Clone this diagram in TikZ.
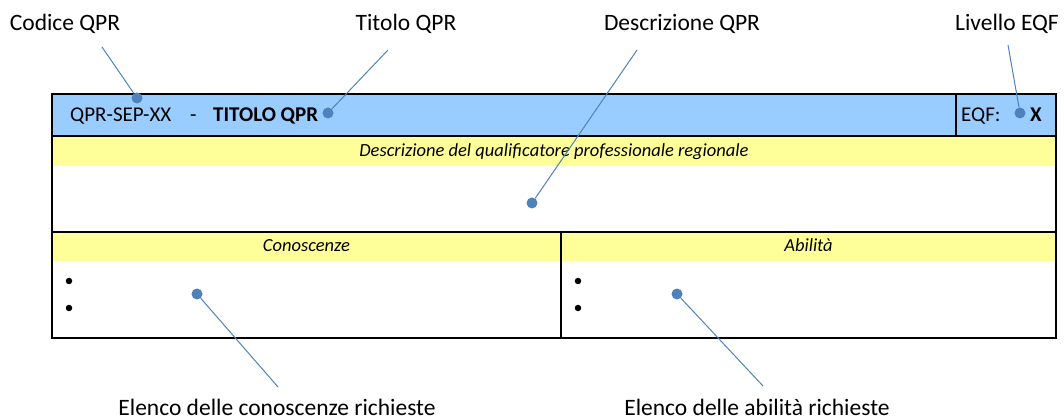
\documentclass[tikz,border=0pt]{standalone}
\usepackage{fontspec}
\setmainfont{Carlito}
\usepackage{xcolor}
\usepackage{tikz}
\usetikzlibrary{positioning,calc}
\definecolor{qprblue}{HTML}{99CCFF}
\definecolor{qpryellow}{HTML}{FFFF99}
\definecolor{callout}{HTML}{4F81BD}
\tikzset{
  callout dot/.style={circle,fill=callout,inner sep=0pt,minimum size=11pt},
  callout line/.style={callout,line width=1pt},
  callout text/.style={font=\fontsize{23.5}{27}\selectfont,anchor=base,inner sep=0pt},
  cell text/.style={font=\fontsize{21}{24}\selectfont,anchor=base west,inner sep=0pt},
  head text/.style={font=\fontsize{18.5}{21}\selectfont\itshape,anchor=base,inner sep=0pt},
  bullet/.style={circle,fill=black,inner sep=0pt,minimum size=6.5pt},
  grid line/.style={line width=1.2pt}
}

\begin{document}
\begin{tikzpicture}[x=1pt,y=-1pt]
\useasboundingbox (0,0) rectangle (1064,419);
% table background
\fill [qprblue] (52,94) rectangle (1056,136);
\fill [qpryellow] (52,136) rectangle (1056,166);
\fill [qpryellow] (52,232) rectangle (1056,261);
\draw [grid line] (52,94) rectangle (1056,338);
\draw [grid line] (52,136) -- (1056,136) (52,232) -- (1056,232);
\draw [grid line] (956,94) -- (956,136) (561,232) -- (561,338);
% cell texts
\node [cell text] (code) at (70,122) {QPR-SEP-XX};
\node [cell text] (dash) at (190,122) {-};
\node [cell text] (title) at (213,122) {\bfseries TITOLO QPR};
\node [cell text] (eqf) at (961,122) {EQF:};
\node [cell text] (level) at (1030,122) {\bfseries X};
\node [head text] (descr) at (554,157) {Descrizione del qualificatore professionale regionale};
\node [head text] (know) at (306.5,252) {Conoscenze};
\node [head text] (skill) at (808.5,252) {Abilità};
\foreach \y [count=\i] in {281,308}{
  \node [bullet] (kb\i) at (69,\y) {};
  \node [bullet] (sb\i) at (578,\y) {};
}
% callouts
\node [callout text] (lcode) at (65,31) {Codice QPR};
\node [callout text] (ltitle) at (406,31) {Titolo QPR};
\node [callout text] (ldescr) at (682,31) {Descrizione QPR};
\node [callout text] (llevel) at (1007,31) {Livello EQF};
\node [callout text] (lknow) at (277,415) {Elenco delle conoscenze richieste};
\node [callout text] (lskill) at (757,415) {Elenco delle abilità richieste};
\coordinate (ecode) at (102,47);
\coordinate (etitle) at (388,50);
\coordinate (edescr) at (637,50);
\coordinate (elevel) at (1008,45);
\coordinate (eknow) at (278,387);
\coordinate (eskill) at (763,386);
\node [callout dot] (pcode) at (137,98) {};
\node [callout dot] (ptitle) at (328,113) {};
\node [callout dot] (pdescr) at (532,203) {};
\node [callout dot] (plevel) at (1020,113) {};
\node [callout dot] (pknow) at (197,294) {};
\node [callout dot] (pskill) at (677,294) {};
\draw [callout line] (pcode) -- (ecode);
\draw [callout line] (ptitle) -- (etitle);
\draw [callout line] (pdescr) -- (edescr);
\draw [callout line] (plevel) -- (elevel);
\draw [callout line] (pknow) -- (eknow);
\draw [callout line] (pskill) -- (eskill);
\end{tikzpicture}
\end{document}
